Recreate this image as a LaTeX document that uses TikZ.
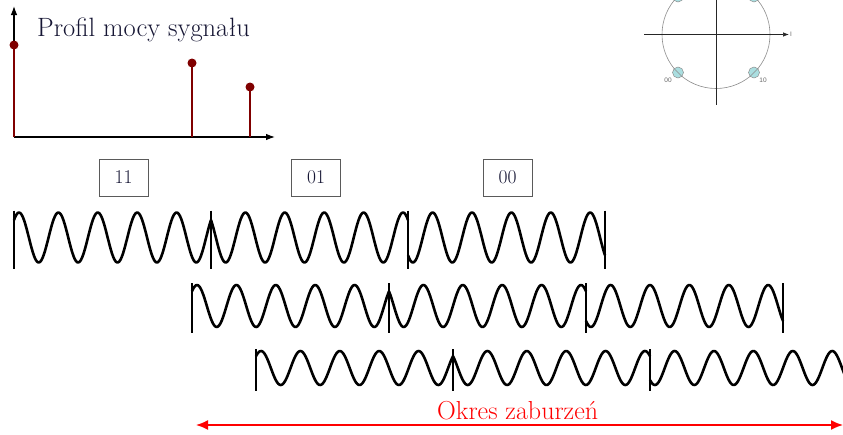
\documentclass[tikz,border=0pt]{standalone}
\usepackage{fontspec}
\newfontfamily\smallsans{Liberation Sans}
\usetikzlibrary{arrows.meta}
\definecolor{stemred}{RGB}{128,0,0}
\definecolor{navytext}{RGB}{22,22,52}
\definecolor{ptfill}{RGB}{170,222,224}
\definecolor{boxgray}{RGB}{90,90,90}
\definecolor{circgray}{RGB}{140,140,140}
\begin{document}
\begin{tikzpicture}[x=1pt,y=-1pt,
  wave/.style={line width=2.6pt, line join=round, black},
  bar/.style={line width=1.8pt, black},
  stem/.style={line width=2.6pt, stemred},
  dot/.style={fill=stemred},
  axis/.style={line width=1.1pt, black, -{Latex[length=9pt,width=6.5pt]}},
  symbox/.style={draw=boxgray, line width=0.9pt, minimum width=49pt, minimum height=37pt, inner sep=0pt, text=navytext, font=\fontsize{19.5}{22}\selectfont},
  caxis/.style={line width=0.7pt, black!85},
  cpt/.style={draw=circgray, line width=0.5pt, fill=ptfill},
  clabel/.style={font=\smallsans\fontsize{6.5}{7}\selectfont, text=black!60, inner sep=0pt},
  redarrow/.style={red, line width=1.6pt, {Latex[length=12pt,width=10pt]}-{Latex[length=12pt,width=10pt]}}
]
\useasboundingbox (0,0) rectangle (843,434);
\clip (0,0) rectangle (843,434);

% power profile
\draw[axis] (14,137) -- (14,6);
\draw[axis] (14,137) -- (275,137);
\node[anchor=base west, inner sep=0pt, text=navytext, font=\fontsize{26.5}{30}\selectfont] (title) at (37,36) {Profil mocy sygnału};
\draw[stem] (14,137) -- (14,45);
\fill[dot] (14,45) circle (4.5);
\draw[stem] (192,137) -- (192,63);
\fill[dot] (192,63) circle (4.5);
\draw[stem] (250,137) -- (250,87);
\fill[dot] (250,87) circle (4.5);

% constellation
\draw[circgray, line width=0.6pt] (716,34.5) circle (54);
\draw[caxis] (644,34.5) -- (716,34.5);
\draw[caxis, -{Latex[length=6pt,width=4.5pt]}] (716,34.5) -- (789,34.5);
\draw[caxis] (716,-10) -- (716,105);
\node[clabel, anchor=west] (ilab) at (790,34.5) {I};
\foreach \px/\py/\sl in {678/72.5/1, 754/72.5/-1, 678/-3.5/-1, 754/-3.5/1} {
  \draw[cpt] (\px,\py) circle (5.5);
  \draw[circgray, line width=0.5pt] ({\px-3.9},{\py-3.9*\sl}) -- ({\px+3.9},{\py+3.9*\sl});
}
\node[clabel] (l00) at (668,80) {00};
\node[clabel] (l10) at (763,80) {10};

% symbol boxes
\node[symbox] (b11) at (123.5,177.5) {11};
\node[symbox] (b01) at (316,177.5) {01};
\node[symbox] (b00) at (507.5,177.5) {00};

% waveforms
\foreach \xs/\cy/\amp in {14/237.5/25, 192/306/21, 256/368/17} {
  \foreach \k/\ph in {0/5, 1/34.4, 2/24.6} {
    \pgfmathsetmacro\xo{\xs+197*\k}
    \draw[wave] plot[domain=0:197, samples=160] ({\xo+\x},{\cy-\amp*cos(9.137*(\x-\ph))});
  }
  \foreach \k in {0,...,3} {
    \draw[bar] ({\xs+197*\k},{\cy-\amp-2}) -- ({\xs+197*\k},{\cy+\amp+6});
  }
}

% disturbance period
\coordinate (aL) at (196,425);
\coordinate (aR) at (843,425);
\draw[redarrow] (aL) -- (aR);
\node[anchor=base west, inner sep=0pt, text=red, font=\fontsize{26}{30}\selectfont] (okres) at (437,419) {Okres zaburzeń};
\end{tikzpicture}
\end{document}
